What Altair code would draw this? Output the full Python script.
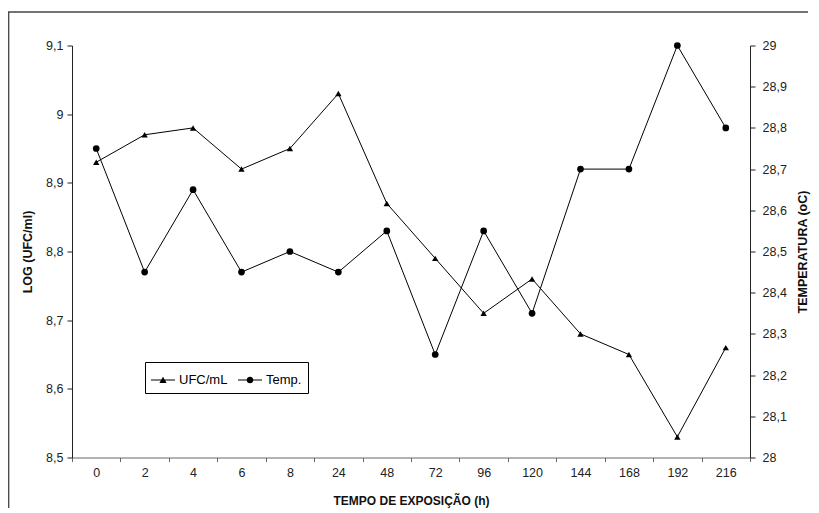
import altair as alt
import pandas as pd

hours = ["0", "2", "4", "6", "8", "24", "48", "72", "96", "120", "144", "168", "192", "216"]
ufc = [8.93, 8.97, 8.98, 8.92, 8.95, 9.03, 8.87, 8.79, 8.71, 8.76, 8.68, 8.65, 8.53, 8.66]
temp = [28.75, 28.45, 28.65, 28.45, 28.50, 28.45, 28.55, 28.25, 28.55, 28.35, 28.70, 28.70, 29.00, 28.80]
series = ["UFC/mL", "Temp."]

df = pd.DataFrame({"h": hours, "ufc": ufc, "temp": temp})

W, H = 678, 412
PAD_L, PAD_T, PAD_R, PAD_B = 64, 37.5, 61, 50.5
FONT = "Liberation Sans"

x_enc = alt.X(
    "h:N",
    sort=hours,
    bandPosition=0.5,
    scale=alt.Scale(type="band", paddingInner=0, paddingOuter=0),
    axis=alt.Axis(
        title="TEMPO DE EXPOSIÇÃO (h)",
        labelAngle=0,
        tickBand="extent",
        tickSize=4,
        labelPadding=5,
        titlePadding=16,
        labelFontSize=12.5,
        titleFontSize=12,
        domainColor="#666666",
        tickColor="#666666",
    ),
)

ufc_line = alt.Chart(df).mark_line(
    color="black", strokeWidth=1,
    point=alt.OverlayMarkDef(shape="triangle-up", filled=True, color="black", size=40),
).encode(
    x=x_enc,
    y=alt.Y(
        "ufc:Q",
        scale=alt.Scale(domain=[8.5, 9.1], nice=False, zero=False),
        axis=alt.Axis(
            orient="left",
            title="LOG (UFC/ml)",
            values=[8.5, 8.6, 8.7, 8.8, 8.9, 9.0, 9.1],
            labelExpr="replace(format(datum.value, '.1~f'), '.', ',')",
            grid=False,
            tickSize=5,
            labelPadding=4,
            titlePadding=11,
        ),
    ),
)

temp_line = alt.Chart(df).mark_line(
    color="black", strokeWidth=1,
    point=alt.OverlayMarkDef(shape="circle", filled=True, color="black", size=45),
).encode(
    x=x_enc,
    y=alt.Y(
        "temp:Q",
        scale=alt.Scale(domain=[28, 29], nice=False, zero=False),
        axis=alt.Axis(
            orient="right",
            title="TEMPERATURA (oC)",
            titleAngle=270,
            titleBaseline="top",
            values=[28.0, 28.1, 28.2, 28.3, 28.4, 28.5, 28.6, 28.7, 28.8, 28.9, 29.0],
            labelExpr="replace(format(datum.value, '.1~f'), '.', ',')",
            grid=False,
            tickSize=5,
            labelPadding=7,
            titlePadding=10,
        ),
    ),
)

one = pd.DataFrame({"a": [0]})
frame_top = alt.Chart(one).mark_rule(color="#444444", strokeWidth=1.3).encode(
    x=alt.value(-PAD_L), x2=alt.value(W + PAD_R - 3), y=alt.value(-33.5)
)
frame_left = alt.Chart(one).mark_rule(color="#444444", strokeWidth=1.3).encode(
    x=alt.value(-PAD_L + 0.7), y=alt.value(-33.5), y2=alt.value(H + PAD_B)
)

tri_path = "M-1,-0.04L1,-0.04L1,0.04L-1,0.04ZM-0.3,0.24L0,-0.28L0.3,0.24Z"
circ_path = "M-1,-0.04L1,-0.04L1,0.04L-1,0.04ZM0.28,0A0.28,0.28 0 1,1 -0.28,0A0.28,0.28 0 1,1 0.28,0Z"

legend_layer = alt.Chart(pd.DataFrame({"series": series})).mark_point(
    filled=True, fill="black", opacity=0
).encode(
    shape=alt.Shape(
        "series:N",
        sort=series,
        scale=alt.Scale(domain=series, range=[tri_path, circ_path]),
        legend=alt.Legend(
            title=None,
            orient="none",
            legendX=73,
            legendY=316.5,
            direction="horizontal",
            strokeColor="black",
            fillColor="white",
            padding=6,
            symbolSize=576,
            symbolOpacity=1,
            symbolFillColor="black",
            symbolStrokeWidth=0,
            labelFont=FONT,
            labelFontSize=13,
            labelColor="black",
            labelOffset=4,
            columnPadding=10,
            cornerRadius=0,
        ),
    )
)

chart = alt.layer(frame_top, frame_left, ufc_line, temp_line, legend_layer).resolve_scale(
    y="independent"
).properties(
    width=W,
    height=H,
    autosize=alt.AutoSizeParams(type="none"),
    padding={"left": PAD_L, "top": PAD_T, "right": PAD_R, "bottom": PAD_B},
).configure_view(stroke=None).configure_axis(
    labelFont=FONT,
    labelFontSize=12.5,
    labelColor="#222222",
    titleFont=FONT,
    titleFontSize=12.5,
    titleFontWeight="bold",
    titleColor="#111111",
    domainColor="#222222",
    tickColor="#222222",
)

chart.save("out.html", embed_options={"renderer": "svg", "actions": False})
